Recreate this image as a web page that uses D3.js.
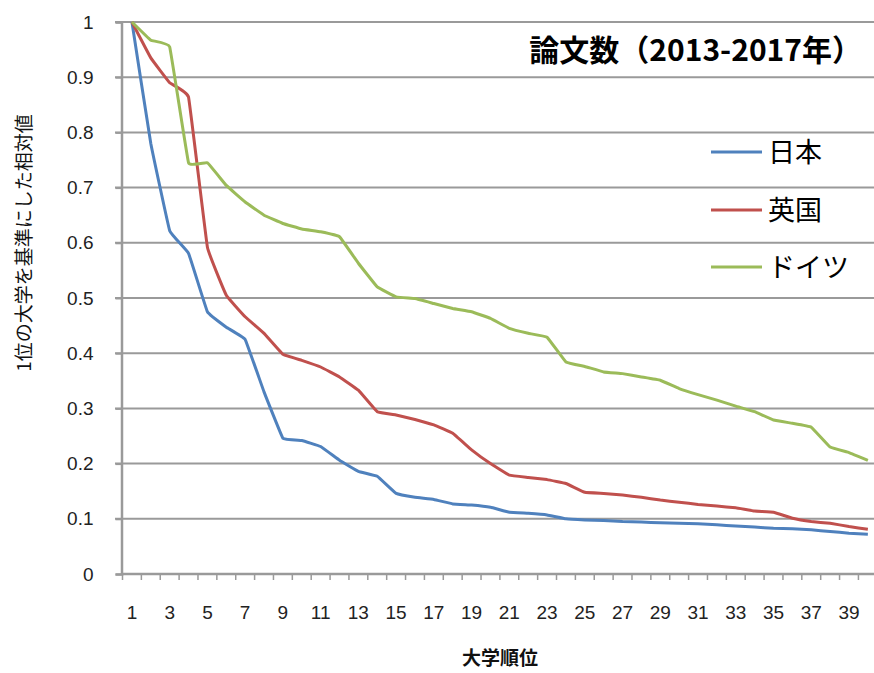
<!DOCTYPE html>
<html><head><meta charset="utf-8">
<script src="https://cdn.jsdelivr.net/npm/d3@7"></script>
<style>
html,body{margin:0;padding:0;background:#fff;}
svg{display:block;}
text{font-family:"Noto Sans CJK JP","Noto Sans",sans-serif;}
</style></head>
<body>
<svg id="chart" width="874" height="673"></svg>
<script>
const ranks = d3.range(1, 41);
const japan = [1.0,0.78,0.622,0.581,0.475,0.447,0.425,0.33,0.246,0.242,0.231,0.206,0.186,0.177,0.146,0.139,0.135,0.127,0.125,0.121,0.112,0.11,0.107,0.1,0.098,0.097,0.095,0.094,0.093,0.092,0.091,0.089,0.087,0.085,0.083,0.082,0.08,0.077,0.074,0.072];
const uk = [1.0,0.935,0.89,0.864,0.592,0.505,0.466,0.436,0.398,0.387,0.375,0.357,0.333,0.294,0.288,0.28,0.27,0.255,0.225,0.2,0.179,0.175,0.171,0.164,0.148,0.146,0.143,0.139,0.134,0.13,0.126,0.123,0.12,0.114,0.112,0.101,0.095,0.092,0.086,0.081];
const germany = [1.0,0.967,0.955,0.745,0.745,0.704,0.674,0.65,0.635,0.625,0.62,0.611,0.563,0.52,0.502,0.499,0.49,0.481,0.475,0.463,0.445,0.436,0.429,0.384,0.376,0.366,0.363,0.357,0.351,0.336,0.325,0.315,0.304,0.294,0.279,0.273,0.266,0.23,0.22,0.206];
const seriesNames = ["日本","英国","ドイツ"];
const seriesColors = ["#4F81BD","#C0504D","#9BBB59"];
const yTicks = [0,0.1,0.2,0.3,0.4,0.5,0.6,0.7,0.8,0.9,1];
const xLabels = ranks.filter(r => r % 2 === 1);
const title = "論文数（2013-2017年）";
const xTitle = "大学順位";
const yTitle = "1位の大学を基準にした相対値";

const series = [japan, uk, germany].map((v, i) => ({name: seriesNames[i], color: seriesColors[i], values: v}));

const svg = d3.select("#chart");
const x = d3.scaleBand().domain(ranks).range([122.5, 877.3]);
const xc = r => x(r) + x.bandwidth() / 2;
const y = d3.scaleLinear().domain([0, 1]).range([574, 22]);

// gridlines
svg.append("g").selectAll("line").data(yTicks.filter(t => t > 0)).join("line")
  .attr("x1", 115).attr("x2", 874)
  .attr("y1", d => y(d)).attr("y2", d => y(d))
  .attr("stroke", "#9a9a9a").attr("stroke-width", 2);

// y axis
const yAxis = svg.append("g").attr("transform", "translate(121.5,0)")
  .call(d3.axisLeft(y).tickValues(yTicks).tickSize(6).tickFormat(d => d3.format("")(+d.toFixed(1))));
yAxis.select(".domain").attr("stroke", "#9a9a9a").attr("stroke-width", 2.5);
yAxis.selectAll(".tick line").attr("stroke", "#9a9a9a").attr("stroke-width", 2);
yAxis.selectAll(".tick text").attr("x", -28).attr("fill", "#222").attr("font-size", 19)
  .style("font-family", "'Liberation Sans',sans-serif");

// x axis
svg.append("line").attr("x1", 121.5).attr("x2", 874).attr("y1", y(0)).attr("y2", y(0))
  .attr("stroke", "#9a9a9a").attr("stroke-width", 2.5);
svg.append("g").selectAll("line").data(ranks).join("line")
  .attr("x1", d => x(d)).attr("x2", d => x(d))
  .attr("y1", y(0)).attr("y2", y(0) + 6)
  .attr("stroke", "#9a9a9a").attr("stroke-width", 1.5);
svg.append("g").selectAll("text").data(xLabels).join("text")
  .attr("x", d => xc(d)).attr("y", 619)
  .attr("text-anchor", "middle").attr("font-size", 19).attr("fill", "#222")
  .style("font-family", "'Liberation Sans',sans-serif")
  .text(d => d);

// lines
const line = d3.line().x((d, i) => xc(ranks[i])).y(d => y(d)).curve(d3.curveCardinal.tension(0.8));
svg.append("g").selectAll("path").data(series).join("path")
  .attr("d", d => line(d.values))
  .attr("fill", "none").attr("stroke", d => d.color).attr("stroke-width", 3)
  .attr("stroke-linejoin", "round");

// title
svg.append("text").attr("x", 862).attr("y", 61).attr("text-anchor", "end")
  .attr("font-size", 30).attr("font-weight", "bold").attr("fill", "#000").text(title);

// legend
const legY = [152, 210, 267];
const leg = svg.append("g").selectAll("g").data(series).join("g")
  .attr("transform", (d, i) => `translate(0,${legY[i]})`);
leg.append("line").attr("x1", 711).attr("x2", 762).attr("y1", 0).attr("y2", 0)
  .attr("stroke", d => d.color).attr("stroke-width", 3);
leg.append("text").attr("x", 768).attr("y", 10).attr("font-size", 27).attr("fill", "#000").text(d => d.name);

// axis titles
svg.append("text").attr("x", 500).attr("y", 665).attr("text-anchor", "middle")
  .attr("font-size", 19).attr("font-weight", "bold").attr("fill", "#111").text(xTitle);
svg.append("text").attr("transform", "translate(31,243) rotate(-90)").attr("text-anchor", "middle")
  .attr("font-size", 19).attr("fill", "#111").text(yTitle);
</script>
</body></html>
